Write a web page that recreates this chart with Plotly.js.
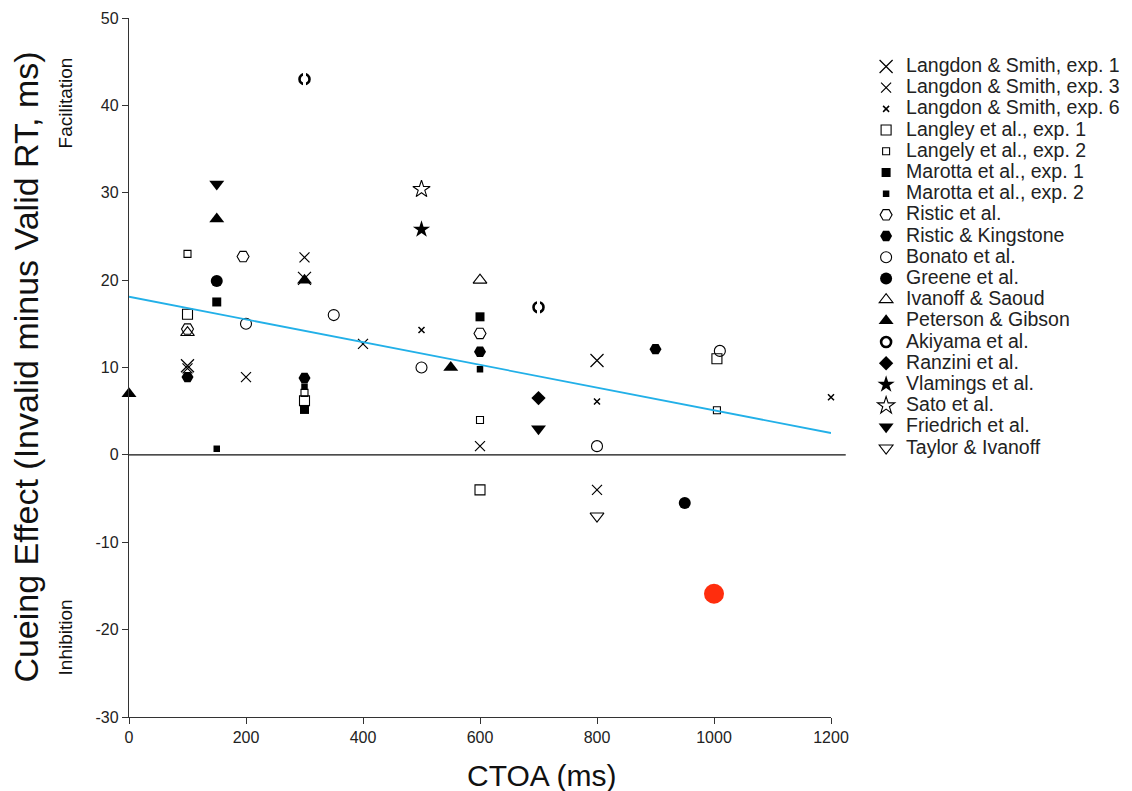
<!DOCTYPE html>
<html>
<head>
<meta charset="utf-8">
<script src="https://cdn.plot.ly/plotly-3.0.1.min.js"></script>
<style>html,body{margin:0;padding:0;background:#fff;}#chart{width:1132px;height:791px;}</style>
</head>
<body>
<div id="chart"></div>
<script>
// ---- Data (CTOA in ms, cueing effect in ms) ----
const langdon1X = [100, 300, 800];
const langdon1Y = [10.2, 20.2, 10.8];
const langdon3X = [100, 200, 300, 400, 600, 800];
const langdon3Y = [9.9, 8.9, 22.6, 12.7, 1.0, -4.0];
const langdon6X = [500, 800, 1200];
const langdon6Y = [14.3, 6.1, 6.6];
const langley1X = [100, 300, 600, 1005];
const langley1Y = [16.1, 6.2, -4.0, 11.0];
const langley2X = [100, 300, 600, 1005];
const langley2Y = [23.0, 7.1, 4.0, 5.1];
const marotta1X = [150, 300, 600];
const marotta1Y = [17.5, 5.2, 15.8];
const marotta2X = [150, 300, 600];
const marotta2Y = [0.7, 7.8, 9.8];
const risticX = [100, 195, 600];
const risticY = [14.4, 22.7, 13.9];
const risticKX = [100, 300, 600, 900];
const risticKY = [8.9, 8.8, 11.8, 12.1];
const bonatoX = [200, 350, 500, 800, 1010];
const bonatoY = [15.0, 16.0, 10.0, 1.0, 11.9];
const greeneX = [150, 950];
const greeneY = [19.9, -5.5];
const ivanoffX = [100, 600];
const ivanoffY = [14.0, 20.0];
const petersonX = [0, 150, 300, 550];
const petersonY = [7.0, 27.0, 20.0, 10.0];
const akiyamaX = [300, 700];
const akiyamaY = [43.0, 16.9];
const ranziniX = [700];
const ranziniY = [6.5];
const vlamingsX = [500];
const vlamingsY = [25.8];
const satoX = [500];
const satoY = [30.4];
const friedrichX = [150, 700];
const friedrichY = [31.0, 3.0];
const taylorX = [800];
const taylorY = [-7.0];
const currentX = [1000];
const currentY = [-15.9];
// regression fit
const fitIntercept = 18.1;
const fitSlope = -0.013;
const fitRange = [0, 1200];

const xTicks = [0, 200, 400, 600, 800, 1000, 1200];
const yTicks = [-30, -20, -10, 0, 10, 20, 30, 40, 50];

const LF = 'Liberation Sans, Arial, sans-serif';

function nm(s){ return '<span style="font-size:19.5px">' + s + '</span>'; }

function tr(name, x, y, symbol, size, color, lw){
  return {
    type: 'scatter', mode: 'markers', name: nm(name), x: x, y: y,
    cliponaxis: false,
    marker: {symbol: symbol, size: size, color: color || '#000',
             line: {color: '#000', width: lw === undefined ? 1.2 : lw}}
  };
}

const traces = [
  tr('Langdon &amp; Smith, exp. 1', langdon1X, langdon1Y, 'x-thin-open', 13, '#000', 1.2),
  tr('Langdon &amp; Smith, exp. 3', langdon3X, langdon3Y, 'x-thin-open', 10, '#000', 1.2),
  tr('Langdon &amp; Smith, exp. 6', langdon6X, langdon6Y, 'x-thin-open', 6, '#000', 1.5),
  tr('Langley et al., exp. 1', langley1X, langley1Y, 'square-open', 10, '#000', 1.1),
  tr('Langely et al., exp. 2', langley2X, langley2Y, 'square-open', 7, '#000', 1.1),
  tr('Marotta et al., exp. 1', marotta1X, marotta1Y, 'square', 9, '#000', 0),
  tr('Marotta et al., exp. 2', marotta2X, marotta2Y, 'square', 6.5, '#000', 0),
  tr('Ristic et al.', risticX, risticY, 'hexagon2-open', 12, '#000', 1.1),
  tr('Ristic &amp; Kingstone', risticKX, risticKY, 'hexagon2', 12, '#000', 0),
  tr('Bonato et al.', bonatoX, bonatoY, 'circle-open', 11, '#000', 1.1),
  tr('Greene et al.', greeneX, greeneY, 'circle', 12, '#000', 0),
  tr('Ivanoff &amp; Saoud', ivanoffX, ivanoffY, 'triangle-up-open', 12, '#000', 1.1),
  tr('Peterson &amp; Gibson', petersonX, petersonY, 'triangle-up', 13, '#000', 0),
  tr('Akiyama et al.', akiyamaX, akiyamaY, 'circle-open', 10, '#000', 2.6),
  tr('Ranzini et al.', ranziniX, ranziniY, 'diamond', 11, '#000', 0),
  tr('Vlamings et al.', vlamingsX, vlamingsY, 'star', 13, '#000', 0),
  tr('Sato et al.', satoX, satoY, 'star-open', 13, '#000', 1.1),
  tr('Friedrich et al.', friedrichX, friedrichY, 'triangle-down', 13, '#000', 0),
  tr('Taylor &amp; Ivanoff', taylorX, taylorY, 'triangle-down-open', 12, '#000', 1.1)
];

// white cut to turn Akiyama rings into "( )"
traces.push({type:'scatter', mode:'markers', x: akiyamaX, y: akiyamaY, showlegend:false, hoverinfo:'skip',
  cliponaxis:false, marker:{symbol:'line-ns', size:13, line:{color:'#fff', width:3}}});

// highlighted current result
traces.push({type:'scatter', mode:'markers', name:'Current study', x: currentX, y: currentY, showlegend:false,
  cliponaxis:false, marker:{symbol:'circle', size:20, color:'#ff2d0d', line:{width:0}}});

// regression line
traces.push({type:'scatter', mode:'lines', x: fitRange, y: fitRange.map(v => fitIntercept + fitSlope * v),
  showlegend:false, hoverinfo:'skip', line:{color:'#22b0e8', width:1.8}});

const layout = {
  width: 1132, height: 791,
  margin: {l: 129, r: 301, t: 18, b: 74, autoexpand: false},
  paper_bgcolor: '#fff', plot_bgcolor: '#fff',
  showlegend: true,
  legend: {x: 1.05, y: 0.953, xanchor: 'left', yanchor: 'top', font: {family: LF, size: 14, color: '#222'},
           tracegroupgap: 0, bgcolor: 'rgba(0,0,0,0)'},
  xaxis: {range: [0, 1200], tickvals: xTicks, ticktext: xTicks.map(String), showgrid: false, zeroline: false,
          showline: true, linecolor: '#333', linewidth: 1.2, ticks: 'outside', ticklen: 6, tickcolor: '#333',
          tickfont: {family: LF, size: 16, color: '#222'}},
  yaxis: {range: [-30, 50], tickvals: yTicks, ticktext: yTicks.map(String), showgrid: false, zeroline: false,
          showline: true, linecolor: '#333', linewidth: 1.2, ticks: 'outside', ticklen: 6, tickcolor: '#333',
          tickfont: {family: LF, size: 16, color: '#222'}},
  shapes: [{type: 'line', xref: 'paper', yref: 'y', x0: 0, x1: 1.021, y0: 0, y1: 0, line: {color: '#111', width: 1.2}}],
  annotations: [
    {text: 'CTOA (ms)', xref: 'paper', yref: 'paper', x: 0.587, y: -0.0835, xanchor: 'center', yanchor: 'middle',
     showarrow: false, font: {family: LF, size: 30, color: '#111'}},
    {text: 'Cueing Effect (Invalid minus Valid RT, ms)', xref: 'paper', yref: 'paper', x: -0.148, y: 0.5,
     xanchor: 'center', yanchor: 'middle', textangle: -90, showarrow: false, font: {family: LF, size: 34, color: '#111'}},
    {text: 'Facilitation', xref: 'paper', yref: 'paper', x: -0.091, y: 0.878, xanchor: 'center', yanchor: 'middle',
     textangle: -90, showarrow: false, font: {family: LF, size: 19, color: '#111'}},
    {text: 'Inhibition', xref: 'paper', yref: 'paper', x: -0.091, y: 0.114, xanchor: 'center', yanchor: 'middle',
     textangle: -90, showarrow: false, font: {family: LF, size: 19, color: '#111'}}
  ]
};

Plotly.newPlot('chart', traces, layout, {displayModeBar: false, staticPlot: true});
</script>
</body>
</html>
